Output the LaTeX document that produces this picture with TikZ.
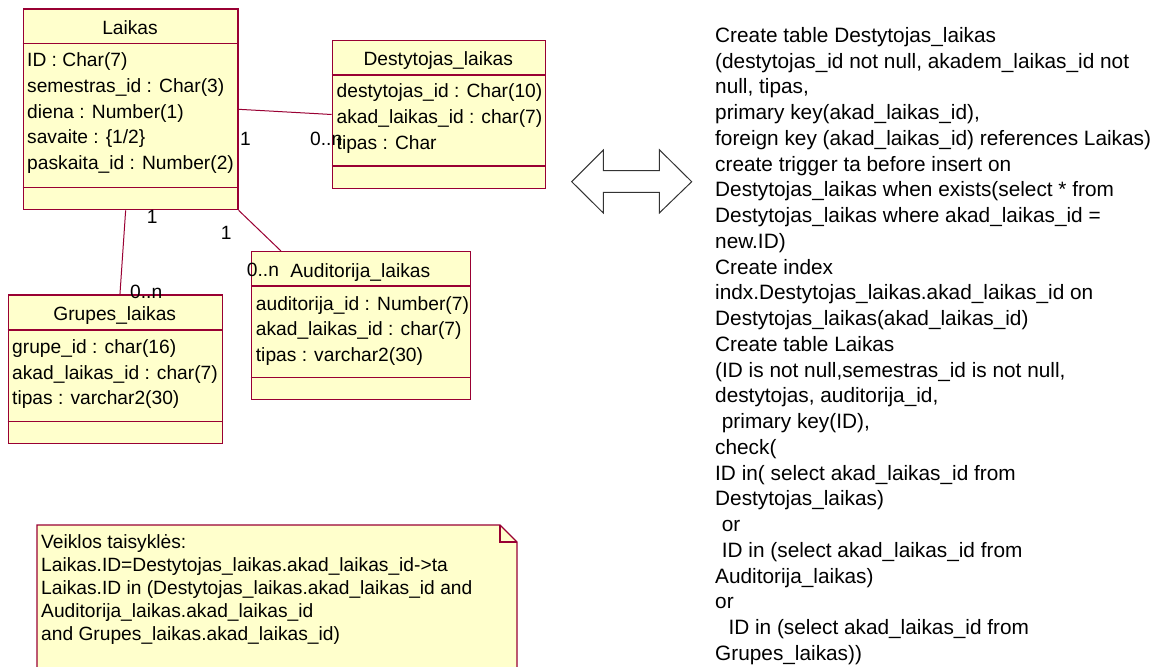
\documentclass[tikz,border=0pt]{standalone}
\usepackage{fontspec}
\setmainfont{Liberation Sans}
\definecolor{umlborder}{HTML}{990033}
\definecolor{umlfill}{HTML}{FFFFCC}
\tikzset{
  classbox/.style={draw=umlborder, fill=umlfill, line width=1.3pt, rectangle,
    inner sep=0pt, anchor=north west},
  compart/.style={draw=umlborder, line width=1.3pt},
  assoc/.style={draw=umlborder, line width=1pt},
  umltext/.style={inner sep=0pt, anchor=base west, font=\fontsize{19.2}{23}\selectfont},
  umltitle/.style={umltext, anchor=base},
  notetext/.style={umltext},
  sqltext/.style={inner sep=0pt, anchor=base west, font=\fontsize{20.8}{25}\selectfont},
  blockarrow/.style={draw=black!80, fill=white, line width=1pt, line join=miter},
}
\begin{document}
\begin{tikzpicture}[x=1pt,y=-1pt]
\useasboundingbox (0,0) rectangle (1155,666);
\clip (0,0) rectangle (1155,666);

% ---------- class Laikas ----------
\node[classbox, minimum width=214.6pt, minimum height=200.7pt] (laikas) at (22.7,8.3) {};
\draw[compart] (laikas.west |- 0,43.3) -- (laikas.east |- 0,43.3);
\draw[compart] (laikas.west |- 0,187.7) -- (laikas.east |- 0,187.7);
\node[umltitle] (laikas-t) at (130,34.3) {Laikas};
\foreach \s [count=\i] in {ID : Char(7), semestras\_id : Char(3), diena : Number(1),
    {savaite : \{1/2\}}, paskaita\_id : Number(2)}
  \node[umltext] (laikas-a\i) at (27, 66.7+25.75*\i-25.75) {\s};

% ---------- class Destytojas_laikas ----------
\node[classbox, minimum width=213.3pt, minimum height=147.7pt] (dest) at (331.7,40) {};
\draw[compart] (dest.west |- 0,75) -- (dest.east |- 0,75);
\draw[compart] (dest.west |- 0,166) -- (dest.east |- 0,166);
\node[umltitle] (dest-t) at (438.3,66) {Destytojas\_laikas};
\foreach \s [count=\i] in {destytojas\_id : Char(10), akad\_laikas\_id : char(7), tipas : Char}
  \node[umltext] (dest-a\i) at (336.5, 97.5+26*\i-26) {\s};

% ---------- class Grupes_laikas ----------
\node[classbox, minimum width=214pt, minimum height=148.4pt] (grupes) at (7.7,294.3) {};
\draw[compart] (grupes.west |- 0,330) -- (grupes.east |- 0,330);
\draw[compart] (grupes.west |- 0,421.7) -- (grupes.east |- 0,421.7);
\node[umltitle] (grupes-t) at (114.7,320.7) {Grupes\_laikas};
\foreach \s [count=\i] in {grupe\_id : char(16), akad\_laikas\_id : char(7), tipas : varchar2(30)}
  \node[umltext] (grupes-a\i) at (12, 353.3+25.8*\i-25.8) {\s};

% ---------- class Auditorija_laikas ----------
\node[classbox, minimum width=219.3pt, minimum height=148pt] (audit) at (250.7,251) {};
\draw[compart] (audit.west |- 0,286) -- (audit.east |- 0,286);
\draw[compart] (audit.west |- 0,377.7) -- (audit.east |- 0,377.7);
\node[umltitle] (audit-t) at (360.3,277.3) {Auditorija\_laikas};
\foreach \s [count=\i] in {auditorija\_id : Number(7), akad\_laikas\_id : char(7), tipas : varchar2(30)}
  \node[umltext] (audit-a\i) at (255.7, 310+25.75*\i-25.75) {\s};

% ---------- associations ----------
\draw[assoc] (laikas.east) -- (dest.west);
\draw[assoc] ([xshift=-5pt]laikas.south) -- ([xshift=4.6pt]grupes.north);
\draw[assoc] (laikas.south east) -- ([xshift=30.3pt]audit.north west);

% multiplicities
\node[umltext] (m-ld1) at (240,145) {1};
\node[umltext] (m-ld2) at (310,145) {0..n};
\node[umltext] (m-lg1) at (146.7,223.3) {1};
\node[umltext] (m-lg2) at (130,298.3) {0..n};
\node[umltext] (m-la1) at (220.7,239.3) {1};
\node[umltext] (m-la2) at (246.7,276) {0..n};

% ---------- double block arrow ----------
\draw[blockarrow] (571.7,181.7) -- (603.3,150) -- (603.3,170.7) -- (659.3,170.7)
  -- (659.3,149.7) -- (691.7,181.7) -- (659.3,213) -- (659.3,192.3)
  -- (603.3,192.3) -- (603.3,213) -- cycle;

% ---------- SQL text ----------
\foreach \s [count=\i] in {
    Create table Destytojas\_laikas,
    {(destytojas\_id not null, akadem\_laikas\_id not},
    {null, tipas,},
    {primary key(akad\_laikas\_id),},
    {foreign key (akad\_laikas\_id) references Laikas)},
    create trigger ta before insert on,
    {Destytojas\_laikas when exists(select * from},
    {Destytojas\_laikas where akad\_laikas\_id =},
    {new.ID)},
    Create index,
    indx.Destytojas\_laikas.akad\_laikas\_id on,
    {Destytojas\_laikas(akad\_laikas\_id)},
    Create table Laikas,
    {(ID is not null,semestras\_id is not null,},
    {destytojas, auditorija\_id,},
    {\hspace*{6.7pt}primary key(ID),},
    {check(},
    {ID in( select akad\_laikas\_id from},
    {Destytojas\_laikas)},
    {\hspace*{6.7pt}or},
    {\hspace*{6.7pt}ID in (select akad\_laikas\_id from},
    {Auditorija\_laikas)},
    or,
    {\hspace*{13.3pt}ID in (select akad\_laikas\_id from},
    {Grupes\_laikas))}}
  \node[sqltext] (sql-\i) at (715, 42.3+25.75*\i-25.75) {\s};

% ---------- note ----------
\draw[draw=umlborder, fill=umlfill, line width=1.3pt]
  (37,525) -- (500,525) -- (517,542) -- (517,700) -- (37,700) -- cycle;
\draw[draw=umlborder, line width=1.3pt] (500,525) -- (500,542) -- (517,542);
\foreach \s [count=\i] in {
    Veiklos taisyklės:,
    Laikas.ID=Destytojas\_laikas.akad\_laikas\_id->ta,
    Laikas.ID in (Destytojas\_laikas.akad\_laikas\_id and,
    Auditorija\_laikas.akad\_laikas\_id,
    and Grupes\_laikas.akad\_laikas\_id)}
  \node[notetext] (note-\i) at (41, 548+23*\i-23) {\s};
\end{tikzpicture}
\end{document}
